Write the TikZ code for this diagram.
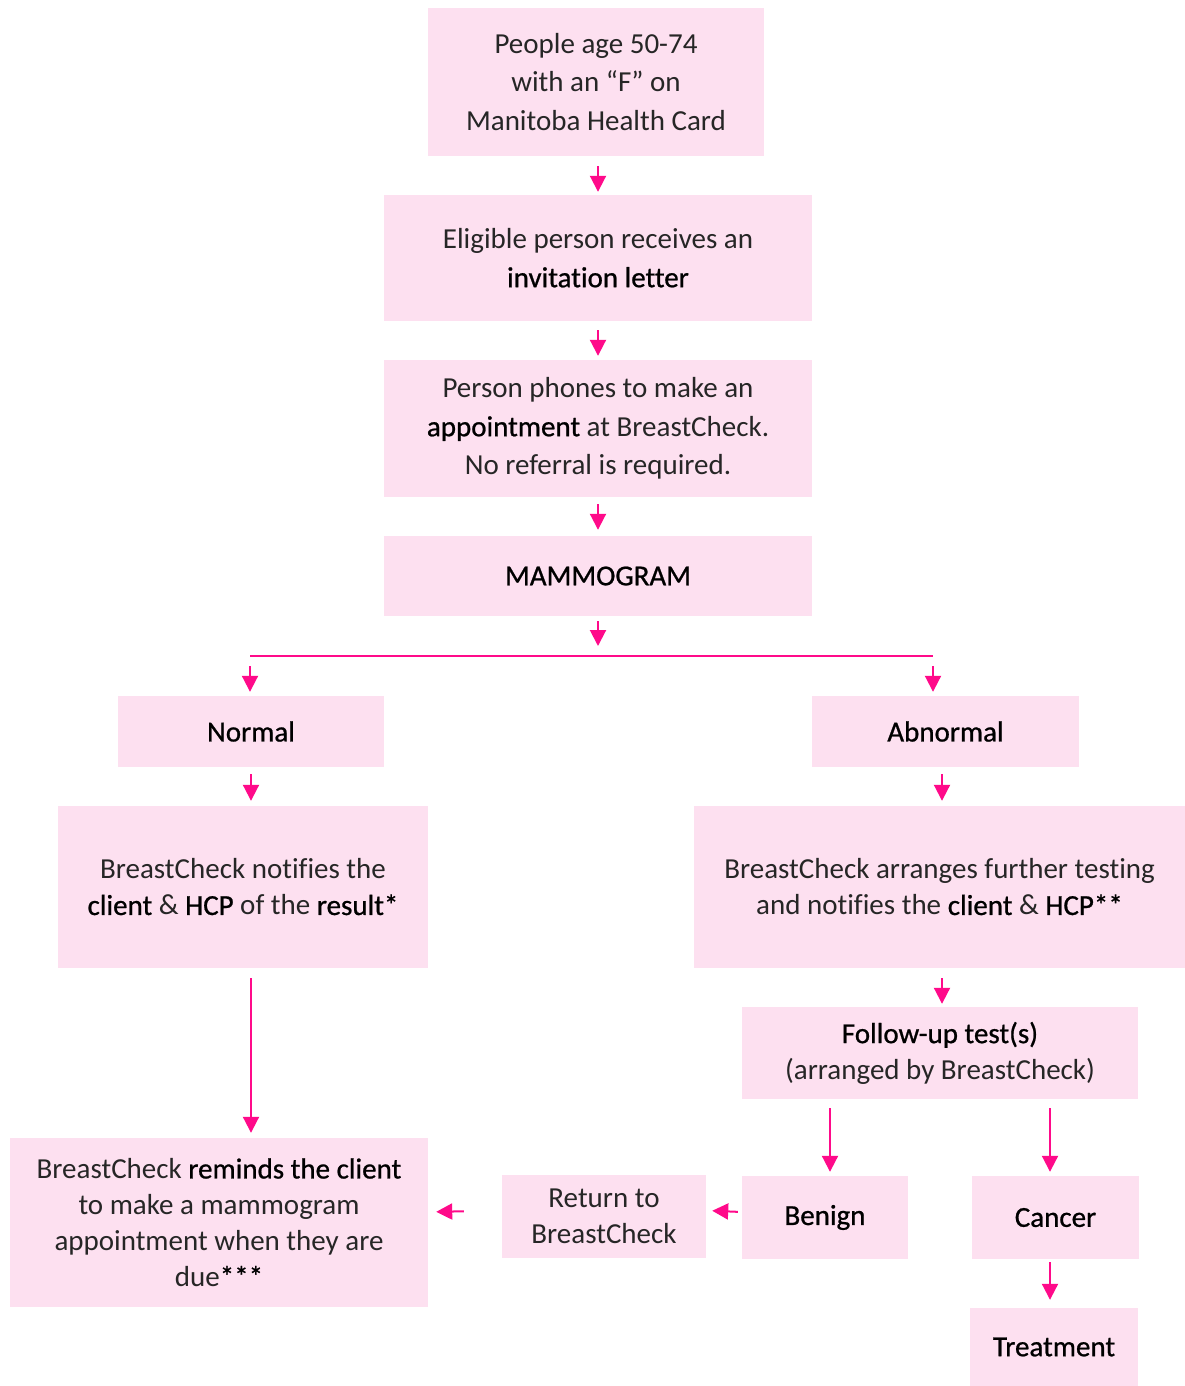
\documentclass[tikz,border=0pt]{standalone}
\usepackage{fontspec}
\setmainfont{Carlito}[Ligatures=NoCommon]
\newfontfamily\medfont{Carlito}[FakeBold=0.8,Ligatures=NoCommon]
\usetikzlibrary{arrows.meta,calc}
\definecolor{boxpink}{HTML}{FDE0F0}
\definecolor{arrpink}{HTML}{FF0A8A}
\definecolor{txt}{HTML}{262626}
\newcommand{\hl}[1]{{\medfont\color{black}#1}}
\tikzset{
  box/.style={rectangle, fill=boxpink, inner sep=0pt, align=center,
    text=txt, font=\fontsize{29}{36}\selectfont},
  tall/.style={font=\fontsize{29}{38.5}\selectfont},
  arr/.style={draw=arrpink, line width=2pt, -{Triangle[width=16pt,length=16pt]}},
  bar/.style={draw=arrpink, line width=2pt}
}
\begin{document}
\begin{tikzpicture}[x=1pt,y=-1pt]
\useasboundingbox (0,0) rectangle (1185,1386);
\node[box,tall,minimum width=336pt,minimum height=148pt] (people) at (596,82)
  {People age 50-74\\ with an “F” on\\ Manitoba Health Card};
\node[box,tall,minimum width=428pt,minimum height=126pt] (elig) at (598,258)
  {Eligible person receives an\\ \hl{invitation letter}};
\node[box,tall,minimum width=428pt,minimum height=137pt] (phone) at (598,428.5)
  {Person phones to make an\\ \hl{appointment} at BreastCheck.\\ No referral is required.};
\node[box,minimum width=428pt,minimum height=80pt] (mam) at (598,576)
  {\hl{MAMMOGRAM}};
\node[box,minimum width=266pt,minimum height=71pt] (normal) at (251,731.5)
  {\hl{Normal}};
\node[box,minimum width=267pt,minimum height=71pt] (abn) at (945.5,731.5)
  {\hl{Abnormal}};
\node[box,minimum width=370pt,minimum height=162pt] (notif) at (243,887)
  {BreastCheck notifies the\\ \hl{client} \& \hl{HCP} of the \hl{result*}};
\node[box,minimum width=491pt,minimum height=162pt] (arrange) at (939.5,887)
  {BreastCheck arranges further testing\\ and notifies the \hl{client} \& \hl{HCP**}};
\node[box,minimum width=396pt,minimum height=92pt] (follow) at (940,1053)
  {\hl{Follow-up test(s)}\\ (arranged by BreastCheck)};
\node[box,minimum width=418pt,minimum height=169pt] (remind) at (219,1222.5)
  {BreastCheck \hl{reminds the client}\\ to make a mammogram\\ appointment when they are\\ due\hl{***}};
\node[box,minimum width=204pt,minimum height=83pt] (ret) at (604,1216)
  {Return to\\ BreastCheck};
\node[box,minimum width=166pt,minimum height=83pt] (benign) at (825,1217.5)
  {\hl{Benign}};
\node[box,minimum width=167pt,minimum height=83pt] (cancer) at (1055.5,1217.5)
  {\hl{Cancer}};
\node[box,minimum width=168pt,minimum height=78pt] (treat) at (1054,1347)
  {\hl{Treatment}};
\coordinate (barL) at (250,656);
\coordinate (barR) at (933,656);
\coordinate (barM) at (598,656);
% connectors
\draw[arr,shorten <=10pt,shorten >=3pt] (people.south -| elig.north) -- (elig.north);
\draw[arr,shorten <=9pt,shorten >=4pt] (elig.south) -- (phone.north);
\draw[arr,shorten <=7pt,shorten >=6pt] (phone.south) -- (mam.north);
\draw[arr,shorten <=5pt,shorten >=10pt] (mam.south) -- (barM);
\draw[bar] (barL) -- (barR);
\draw[arr,shorten <=10pt,shorten >=4pt] (barL) -- (barL |- normal.north);
\draw[arr,shorten <=10pt,shorten >=4pt] (barR) -- (barR |- abn.north);
\draw[arr,shorten <=7pt,shorten >=5pt] (normal.south) -- (normal.south |- notif.north);
\draw[arr,shorten <=7pt,shorten >=5pt] ($(abn.south)+(-3.5,0)$) -- ($(abn.south |- arrange.north)+(-3.5,0)$);
\draw[arr,shorten <=10pt,shorten >=3pt] ($(arrange.south)+(2.5,0)$) -- ($(follow.north)+(2,0)$);
\draw[arr,shorten <=10pt,shorten >=5pt] (normal.south |- notif.south) -- (normal.south |- remind.north);
\draw[arr,shorten <=9pt,shorten >=4pt] ($(benign.north |- follow.south)+(5,0)$) -- ($(benign.north)+(5,0)$);
\draw[arr,shorten <=9pt,shorten >=4pt] ($(cancer.north |- follow.south)+(-5.5,0)$) -- ($(cancer.north)+(-5.5,0)$);
\draw[arr,shorten <=3pt,shorten >=8pt] ($(cancer.south)+(-5.5,0)$) -- ($(cancer.south |- treat.north)+(-5.5,0)$);
\draw[arr,shorten <=4pt,shorten >=6pt] ($(benign.west)+(0,-5.5)$) -- ($(ret.east)+(0,-5.5)$);
\draw[arr,shorten <=38pt,shorten >=8pt] ($(ret.west)+(0,-5.5)$) -- ($(remind.east |- benign.west)+(0,-5.5)$);
\end{tikzpicture}
\end{document}
